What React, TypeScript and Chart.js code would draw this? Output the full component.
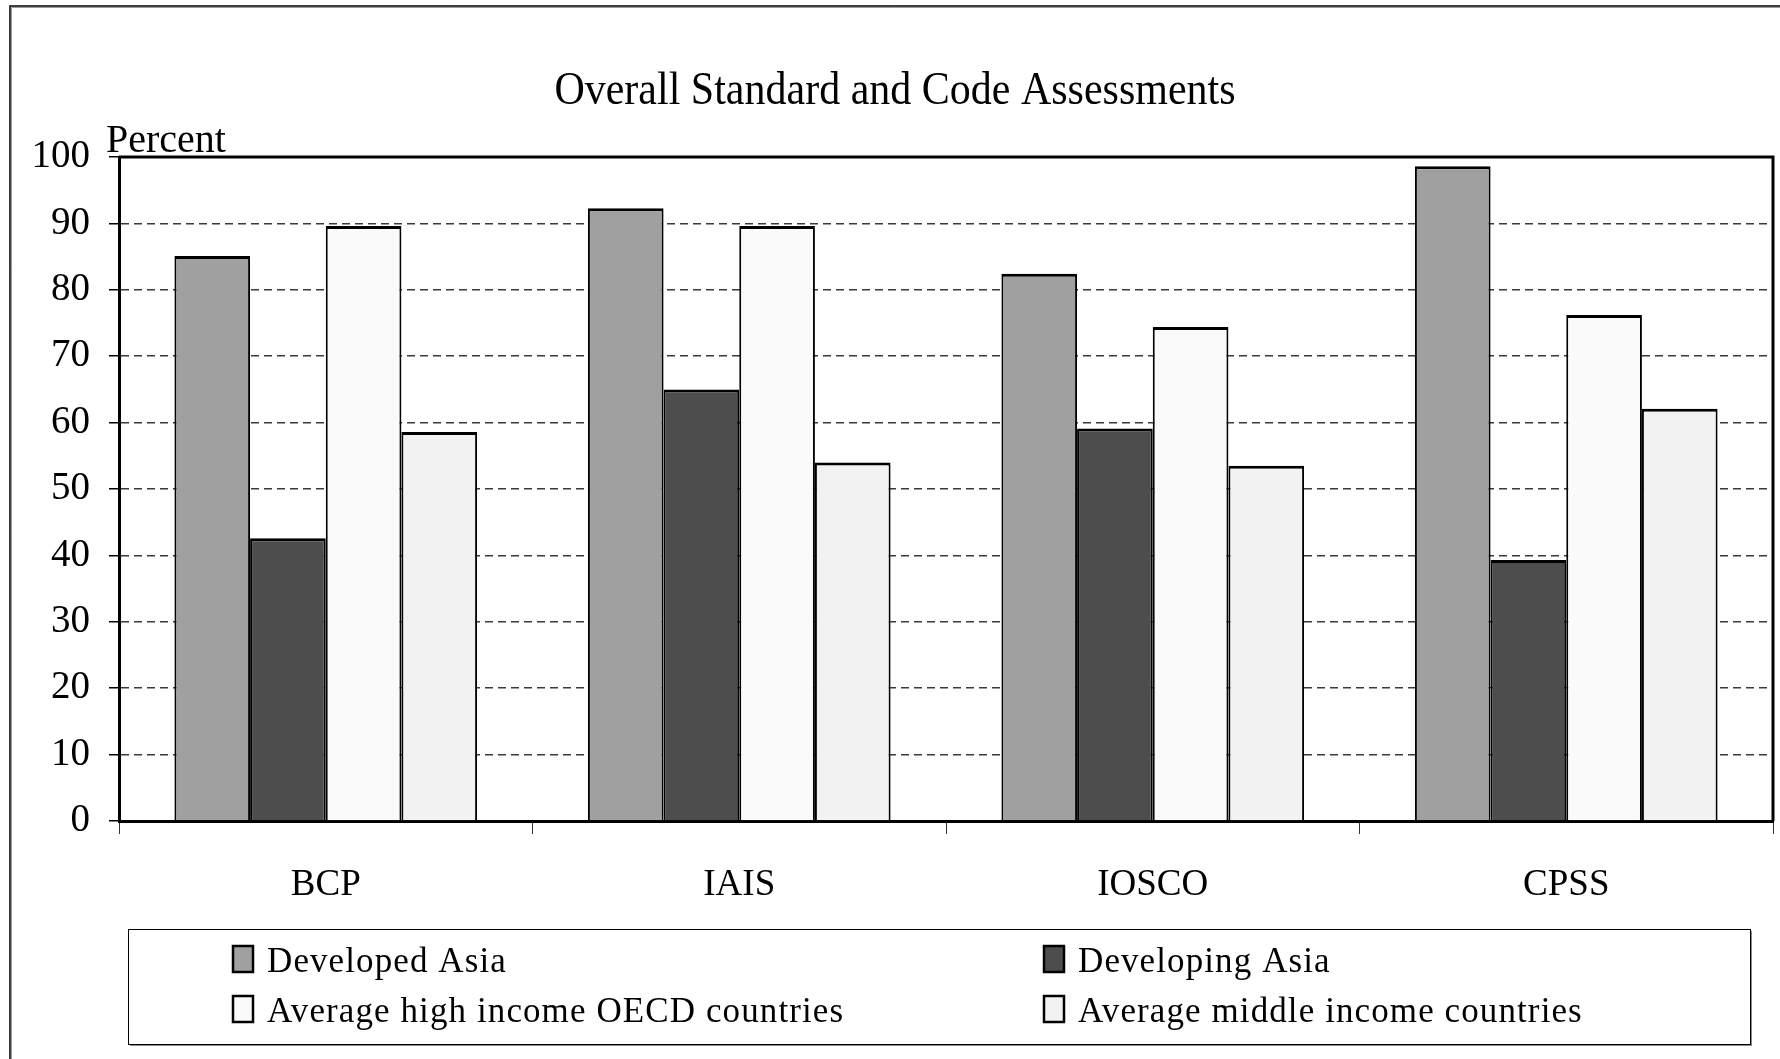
import React, { useEffect, useRef } from 'react';
import { Chart, registerables } from 'chart.js';

Chart.register(...registerables);

const chartTitle = 'Overall Standard and Code Assessments';
const yAxisLabel = 'Percent';
const categories = ['BCP', 'IAIS', 'IOSCO', 'CPSS'];
const seriesNames = [
  'Developed Asia',
  'Developing Asia',
  'Average high income OECD countries',
  'Average middle income countries',
];
const developedAsia = [85.1, 92.3, 82.4, 98.6];
const developingAsia = [42.6, 65.0, 59.1, 39.3];
const highIncomeOECD = [89.6, 89.6, 74.4, 76.2];
const middleIncome = [58.6, 54.0, 53.5, 62.1];
const yTicks = [0, 10, 20, 30, 40, 50, 60, 70, 80, 90, 100];
const seriesColors = ['#A0A0A0', '#4D4D4D', '#FAFAFA', '#F2F2F2'];

const FONT = "'Liberation Serif', 'Times New Roman', serif";
const W = 1780;
const H = 1059;

const decorPlugin = {
  id: 'decor',
  beforeDraw(chart: any) {
    const ctx = chart.ctx;
    ctx.save();
    ctx.fillStyle = '#ffffff';
    ctx.fillRect(0, 0, chart.width, chart.height);
    ctx.restore();
  },
  afterDraw(chart: any) {
    const ctx = chart.ctx;
    const ca = chart.chartArea;
    ctx.save();
    // outer frame (left and top edges visible)
    ctx.strokeStyle = '#9a9a9a';
    ctx.lineWidth = 1;
    ctx.beginPath();
    ctx.moveTo(11.5, H);
    ctx.lineTo(11.5, 7.5);
    ctx.lineTo(W, 7.5);
    ctx.stroke();
    ctx.strokeStyle = '#000';
    ctx.lineWidth = 1.5;
    ctx.beginPath();
    ctx.moveTo(10, H);
    ctx.lineTo(10, 6);
    ctx.lineTo(W, 6);
    ctx.stroke();
    // plot frame top & right
    ctx.strokeStyle = '#000';
    ctx.lineWidth = 3;
    ctx.beginPath();
    ctx.moveTo(ca.left, ca.top);
    ctx.lineTo(ca.right, ca.top);
    ctx.lineTo(ca.right, ca.bottom);
    ctx.stroke();
    // title (slightly taller glyphs, as in the reference)
    ctx.fillStyle = '#000';
    ctx.font = `42px ${FONT}`;
    ctx.textAlign = 'center';
    ctx.textBaseline = 'alphabetic';
    ctx.save();
    ctx.translate(895, 104);
    ctx.scale(1, 1.1);
    ctx.fillText(chartTitle, 0, 0);
    ctx.restore();
    // axis unit label
    ctx.font = `40px ${FONT}`;
    ctx.textAlign = 'left';
    ctx.textBaseline = 'alphabetic';
    ctx.fillText(yAxisLabel, 106, 152);
    // legend box
    const lx = 128, ly = 929, lw = 1622, lh = 115;
    ctx.fillStyle = '#8a8a8a';
    ctx.fillRect(lx + 2, ly + 2, lw, lh);
    ctx.fillStyle = '#fff';
    ctx.fillRect(lx, ly, lw, lh);
    ctx.strokeStyle = '#000';
    ctx.lineWidth = 1;
    ctx.strokeRect(lx + 0.5, ly + 0.5, lw, lh);
    const cols = [233, 1044];
    const rows = [972, 1022];
    ctx.font = `35px ${FONT}`;
    try { (ctx as any).letterSpacing = '1.1px'; } catch (e) {}
    chart.data.datasets.forEach((ds: any, i: number) => {
      const cx = cols[i % 2];
      const by = rows[Math.floor(i / 2)];
      ctx.fillStyle = ds.backgroundColor;
      ctx.fillRect(cx, by - 26, 20, 26);
      ctx.strokeStyle = '#000';
      ctx.lineWidth = 2.5;
      ctx.strokeRect(cx, by - 26, 20, 26);
      ctx.fillStyle = '#000';
      ctx.textAlign = 'left';
      ctx.textBaseline = 'alphabetic';
      ctx.save();
      ctx.translate(cx + 34, by);
      ctx.scale(1, 1.05);
      ctx.fillText(ds.label, 0, 0);
      ctx.restore();
    });
    try { (ctx as any).letterSpacing = '0px'; } catch (e) {}
    ctx.restore();
  },
};

export default function App() {
  const ref = useRef<HTMLCanvasElement | null>(null);
  useEffect(() => {
    if (!ref.current) return;
    const seriesData = [developedAsia, developingAsia, highIncomeOECD, middleIncome];
    const chart = new Chart(ref.current, {
      type: 'bar',
      data: {
        labels: categories,
        datasets: seriesNames.map((name, i) => ({
          label: name,
          data: seriesData[i],
          backgroundColor: seriesColors[i],
          borderColor: '#000',
          borderWidth: { top: 3, left: 2, right: 2, bottom: 0 },
          borderSkipped: false,
          categoryPercentage: 0.732,
          barPercentage: 1.0,
        })),
      },
      options: {
        responsive: false,
        animation: false,
        devicePixelRatio: 1,
        layout: { padding: { top: 157, right: 7, bottom: 138, left: 0 } },
        plugins: {
          legend: { display: false },
          title: { display: false },
          tooltip: { enabled: false },
        },
        scales: {
          x: {
            type: 'category',
            grid: {
              offset: true,
              drawOnChartArea: false,
              drawTicks: true,
              tickLength: 13,
              color: '#333',
              lineWidth: 1,
            },
            border: { display: true, color: '#000', width: 3 },
            ticks: {
              color: '#000',
              font: { family: FONT, size: 37 },
              padding: 29,
              maxRotation: 0,
            },
            afterFit: (s: any) => {
              s.height = 100;
            },
          },
          y: {
            min: 0,
            max: 100,
            afterBuildTicks: (s: any) => {
              s.ticks = yTicks.map((v) => ({ value: v }));
            },
            ticks: {
              color: '#000',
              font: { family: FONT, size: 39 },
              padding: 19,
            },
            grid: {
              color: '#3a3a3a',
              lineWidth: 1.5,
              tickLength: 10,
              tickColor: '#000',
              tickBorderDash: [],
            },
            border: { display: true, color: '#000', width: 3, dash: [8, 5] },
            afterFit: (s: any) => {
              s.width = 119;
            },
          },
        },
      },
      plugins: [decorPlugin],
    });
    return () => chart.destroy();
  }, []);
  return (
    <div style={{ position: 'fixed', left: 0, top: 0, width: W, height: H, background: '#fff' }}>
      <canvas ref={ref} width={W} height={H} style={{ width: W, height: H, display: 'block' }} />
    </div>
  );
}
